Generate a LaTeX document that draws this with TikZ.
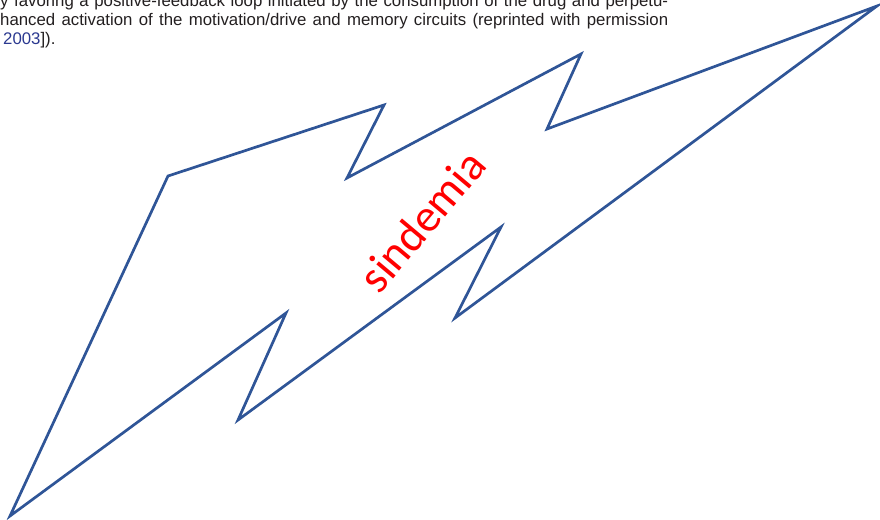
\documentclass[tikz,border=0pt]{standalone}
\usepackage{fontspec}
\setmainfont{Liberation Sans}
\newfontfamily\calibrifont{Carlito}
\usetikzlibrary{positioning}
\definecolor{boltblue}{HTML}{2F5597}
\definecolor{sindred}{HTML}{FF0000}
\definecolor{captgray}{HTML}{231F20}
\definecolor{citeblue}{HTML}{2B3990}
\tikzset{
  bolt/.style={draw=boltblue, line width=2.7pt},
  captline/.style={anchor=base west, inner sep=0pt, text=captgray,
                   font=\fontsize{16.8}{19}\selectfont},
  boltlabel/.style={text=sindred, inner sep=0pt, anchor=base, rotate=50,
                    font=\calibrifont\fontsize{46}{52}\selectfont}}

\begin{document}
\begin{tikzpicture}[x=1pt,y=-1pt]
  \useasboundingbox (0,0) rectangle (880,519);
  % caption lines, cut off by the page edge
  \node[captline] (cap1) at (0,7)
    {\hbox to 668pt{y favoring a positive-feedback loop initiated by the consumption of the drug and perpetu-}};
  \node[captline] (cap2) at (0,26)
    {\hbox to 668pt{hanced activation of the motivation/drive and memory circuits (reprinted with permission}};
  \node[captline] (cap3) at (3,45) {\textcolor{citeblue}{2003}]).};
  % the bolt
  \draw[bolt] (10,516) -- (168,176) -- (384,105) -- (347,178) -- (581,54)
    -- (547,129) -- (877,6) -- (455,318) -- (501,227) -- (238,420)
    -- (286,313) -- cycle;
  \node[boltlabel] (sind) at (434,231) {sindemia};
\end{tikzpicture}
\end{document}
